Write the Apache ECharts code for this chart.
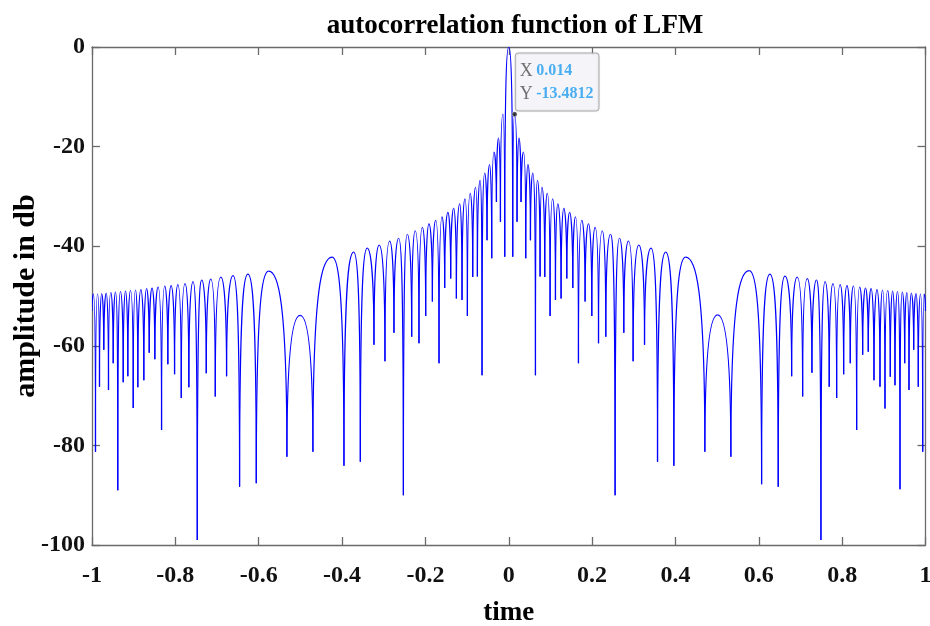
<!DOCTYPE html>
<html>
<head>
<meta charset="utf-8">
<script src="https://cdn.jsdelivr.net/npm/echarts@6/dist/echarts.min.js"></script>
<style>html,body{margin:0;padding:0;background:#fff}#c{width:930px;height:626px}</style>
</head>
<body>
<div id="c"></div>
<script>
// ---- data ----
// nulls (local minima) of the autocorrelation, x in time units, y in dB
var nullX = [-1.0, -0.9916, -0.9820, -0.9717, -0.9604, -0.9491, -0.9381, -0.9251, -0.9140, -0.9011, -0.8900,
  -0.8756, -0.8627, -0.8492, -0.8331, -0.8180, -0.8019, -0.7858, -0.7676, -0.7474, -0.7258, -0.7042, -0.6771,
  -0.6459, -0.6058, -0.5323, -0.4699, -0.3954, -0.3561, -0.3234, -0.2970, -0.2754, -0.2528, -0.2329, -0.2154,
  -0.1993, -0.1832, -0.1673, -0.1537, -0.1393, -0.1256, -0.1121, -0.0992, -0.0864, -0.0752, -0.0641, -0.0521,
  -0.0408, -0.0295, -0.0199, -0.0096,
  0.0096, 0.0199, 0.0295, 0.0408, 0.0521, 0.0641, 0.0752, 0.0864, 0.0992, 0.1121, 0.1256, 0.1393, 0.1537,
  0.1673, 0.1832, 0.1993, 0.2154, 0.2329, 0.2552, 0.2761, 0.2984, 0.3258, 0.3570, 0.3962, 0.4706, 0.5330,
  0.6067, 0.6466, 0.6788, 0.7052, 0.7275, 0.7491, 0.7690, 0.7868, 0.8036, 0.8195, 0.8348, 0.8492, 0.8627,
  0.8764, 0.8908, 0.9028, 0.9155, 0.9268, 0.9388, 0.9501, 0.9604, 0.9717, 0.9827, 0.9933, 1.0];
var nullY = [-53.0, -81.3, -68.2, -60.8, -68.9, -63.5, -89.0, -67.3, -66.1, -72.5, -68.3,
  -66.9, -61.4, -62.7, -76.9, -63.7, -65.7, -70.5, -68.3, -99.0, -65.5, -70.2, -66.1,
  -88.3, -87.6, -82.3, -81.3, -84.1, -83.3, -59.8, -63.1, -57.4, -90.0, -58.2, -59.5,
  -54.0, -51.1, -63.5, -48.4, -46.5, -50.5, -50.8, -54.0, -46.2, -46.1, -65.9, -38.8,
  -42.4, -31.1, -35.1, -42.1,
  -42.1, -35.1, -31.1, -42.4, -38.8, -65.9, -46.1, -46.2, -54.0, -50.8, -50.5, -46.5, -48.4,
  -63.5, -51.1, -54.0, -59.5, -58.2, -90.0, -57.4, -63.1, -59.8, -83.3, -84.1, -81.3, -82.3,
  -87.8, -88.3, -66.1, -70.2, -65.4, -99.0, -68.2, -70.5, -65.7, -63.5, -76.9, -61.8, -61.2,
  -66.9, -68.2, -72.6, -66.2, -67.9, -88.8, -63.5, -68.9, -60.8, -68.2, -81.3, -53.0];
// lobe peaks (local maxima), one between each pair of nulls
var peakX = [-0.9964, -0.9868, -0.9767, -0.9659, -0.9549, -0.9436, -0.9316, -0.9196, -0.9076, -0.8956,
  -0.8828, -0.8691, -0.8559, -0.8413, -0.8255, -0.8101, -0.7940, -0.7767, -0.7575, -0.7366, -0.7150,
  -0.6908, -0.6615, -0.6259, -0.5762, -0.5006, -0.4238, -0.3721, -0.3397, -0.3109, -0.2857, -0.2641,
  -0.2435, -0.2245, -0.2072, -0.1914, -0.1753, -0.1601, -0.1460, -0.1321, -0.1176, -0.1052, -0.0924,
  -0.0797, -0.0689, -0.0576, -0.0461, -0.0353, -0.0247, -0.0140,
  0.0,
  0.0140, 0.0247, 0.0353, 0.0461, 0.0576, 0.0689, 0.0797, 0.0924, 0.1052, 0.1176, 0.1321, 0.1460,
  0.1601, 0.1753, 0.1914, 0.2072, 0.2245, 0.2440, 0.2656, 0.2872, 0.3121, 0.3414, 0.3766, 0.4243,
  0.5010, 0.5770, 0.6266, 0.6627, 0.6920, 0.7163, 0.7383, 0.7590, 0.7779, 0.7952, 0.8115, 0.8271,
  0.8420, 0.8560, 0.8695, 0.8836, 0.8968, 0.9092, 0.9211, 0.9328, 0.9444, 0.9552, 0.9660, 0.9772,
  0.9880, 0.9966];
var peakY = [-49.6, -49.6, -49.5, -49.4, -49.3, -49.2, -49.1, -49.0, -48.9, -48.8,
  -48.7, -48.5, -48.4, -48.2, -48.0, -47.9, -47.7, -47.5, -47.1, -46.8, -46.6,
  -46.2, -45.9, -45.6, -45.0, -53.9, -42.2, -41.2, -40.4, -39.8, -39.0, -38.4,
  -37.6, -36.9, -36.2, -35.5, -34.8, -34.1, -33.2, -32.4, -31.5, -30.5, -29.4,
  -28.2, -26.8, -25.3, -23.6, -21.1, -18.3, -13.4812,
  0.0,
  -13.4812, -18.3, -21.1, -23.6, -25.3, -26.8, -28.2, -29.4, -30.5, -31.5, -32.4, -33.2,
  -34.1, -34.8, -35.5, -36.2, -36.9, -37.6, -38.4, -39.0, -39.8, -40.4, -41.2, -42.2,
  -53.8, -44.9, -45.6, -46.0, -46.2, -46.5, -46.8, -47.1, -47.5, -47.7, -47.9, -48.0,
  -48.2, -48.4, -48.5, -48.7, -48.8, -48.9, -49.0, -49.1, -49.2, -49.3, -49.4, -49.5,
  -49.6, -49.6];
// data tip
var tipX = [0.014];
var tipY = [-13.4812];
var xTicks = { min: -1, max: 1, step: 0.2 };
var yTicks = { min: -100, max: 0, step: 20 };

var lobes = peakX.map(function (x, i) {
  return [nullX[i], nullY[i], x, peakY[i], nullX[i + 1], nullY[i + 1]];
});

var FONT = "'Liberation Serif','Times New Roman',serif";
var LINE = '#0000ff';
var AX = '#6a6a6a';

function half(P, N) {
  var w = N[0] - P[0], h = N[1] - P[1];
  var k = Math.min(0.5 * h, 25);
  return {
    type: 'bezierCurve',
    shape: { x1: P[0], y1: P[1], x2: N[0], y2: N[1],
             cpx1: P[0] + 0.5 * w, cpy1: P[1], cpx2: N[0], cpy2: P[1] + k },
    style: { stroke: LINE, lineWidth: 1.2, fill: 'none' }
  };
}

var chart = echarts.init(document.getElementById('c'), null, { renderer: 'canvas' });
var axisCommon = {
  type: 'value',
  axisLine: { show: true, onZero: false, lineStyle: { color: AX, width: 1.3 } },
  axisTick: { show: true, inside: true, length: 8, lineStyle: { color: AX, width: 1.3 } },
  splitLine: { show: false }
};
chart.setOption({
  animation: false,
  backgroundColor: '#ffffff',
  title: {
    text: 'autocorrelation function of LFM',
    left: 510, top: 8, textAlign: 'center',
    textStyle: { fontFamily: FONT, fontWeight: 'bold', fontSize: 27, color: '#000' }
  },
  grid: { left: 92, right: 4.5, top: 47, bottom: 81, containLabel: false, outerBoundsMode: 'none' },
  xAxis: [
    Object.assign({}, axisCommon, {
      position: 'bottom', min: xTicks.min, max: xTicks.max, interval: xTicks.step,
      name: 'time', nameLocation: 'middle', nameGap: 55, nameMoveOverlap: false,
      nameTextStyle: { fontFamily: FONT, fontWeight: 'bold', fontSize: 27, color: '#000' },
      axisLabel: { fontFamily: FONT, fontWeight: 'bold', fontSize: 24, color: '#111', margin: 19 }
    }),
    Object.assign({}, axisCommon, {
      position: 'top', min: xTicks.min, max: xTicks.max, interval: xTicks.step,
      axisLabel: { show: false }
    })
  ],
  yAxis: [
    Object.assign({}, axisCommon, {
      position: 'left', min: yTicks.min, max: yTicks.max, interval: yTicks.step,
      name: 'amplitude in db', nameLocation: 'middle', nameGap: 51, nameRotate: 90,
      nameMoveOverlap: false,
      nameTextStyle: { fontFamily: FONT, fontWeight: 'bold', fontSize: 30, color: '#000' },
      axisLabel: { fontFamily: FONT, fontWeight: 'bold', fontSize: 24, color: '#111', margin: 7 }
    }),
    Object.assign({}, axisCommon, {
      position: 'right', min: yTicks.min, max: yTicks.max, interval: yTicks.step,
      axisLabel: { show: false }
    })
  ],
  series: [
    {
      type: 'custom',
      xAxisIndex: 0, yAxisIndex: 0,
      clip: true,
      encode: { x: [0, 2, 4], y: [1, 3, 5] },
      data: lobes,
      renderItem: function (params, api) {
        var a = api.coord([api.value(0), api.value(1)]);
        var p = api.coord([api.value(2), api.value(3)]);
        var b = api.coord([api.value(4), api.value(5)]);
        return { type: 'group', children: [half(p, a), half(p, b)] };
      },
      z: 2
    },
    {
      type: 'scatter',
      xAxisIndex: 0, yAxisIndex: 0,
      data: tipX.map(function (x, i) { return [x, tipY[i]]; }),
      symbol: 'circle', symbolSize: 5,
      itemStyle: { color: '#111', borderColor: '#fff', borderWidth: 0.5 },
      z: 5,
      label: {
        show: true,
        position: [4, -58],
        formatter: function (p) {
          return '{k|X} {v|' + p.value[0] + '}\n{k|Y} {v|' + p.value[1] + '}';
        },
        backgroundColor: '#fafaff',
        borderColor: '#a8a8a8',
        borderWidth: 1,
        borderRadius: 3,
        padding: [6, 5, 5, 4],
        shadowColor: 'rgba(0,0,0,0.15)', shadowBlur: 2,
        rich: {
          k: { fontFamily: FONT, fontSize: 18, color: '#4d4d4d', lineHeight: 23 },
          v: { fontFamily: FONT, fontSize: 16, color: '#1e9bf0', lineHeight: 23, fontWeight: 'bold' }
        }
      }
    }
  ]
});
</script>
</body>
</html>
